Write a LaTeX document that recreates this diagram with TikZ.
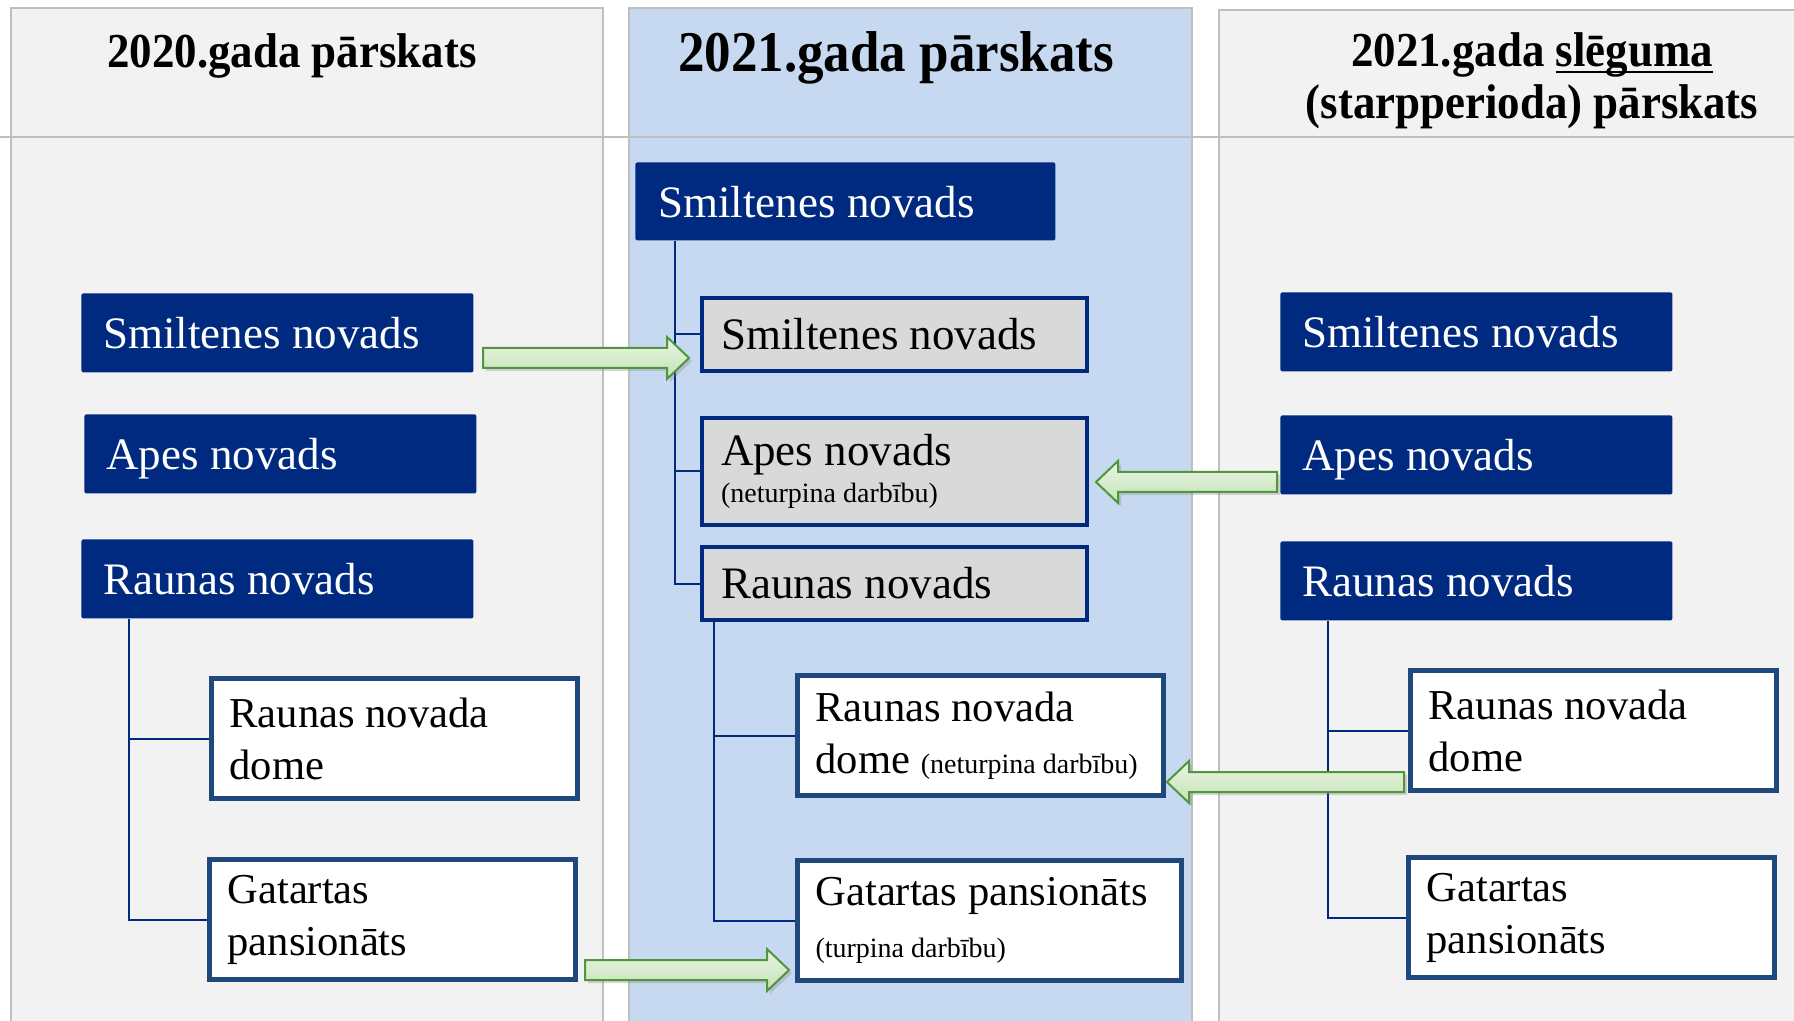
\documentclass[tikz,border=0pt]{standalone}
\usepackage{fontspec}
\setmainfont{Liberation Serif}
\newfontfamily\headfam{Liberation Serif}[FakeStretch=0.92]
\usetikzlibrary{calc,shadows}
\definecolor{navy}{RGB}{0,42,127}
\definecolor{frameblue}{RGB}{31,73,125}
\definecolor{panelgray}{RGB}{242,242,242}
\definecolor{panelblue}{RGB}{198,217,240}
\definecolor{edgegray}{RGB}{191,191,191}
\definecolor{boxgray}{RGB}{217,217,217}
\definecolor{arrowline}{RGB}{80,150,60}
\definecolor{arrowtop}{RGB}{234,245,228}
\definecolor{arrowbot}{RGB}{196,226,182}
\newcommand\boxfont{\fontsize{22.5}{26}\selectfont}
\newcommand\whitefont{\fontsize{21.3}{26}\selectfont}
\newcommand\notefont{\fontsize{14}{16}\selectfont}
\newcommand\headfont{\headfam\fontsize{24.4}{26}\selectfont\bfseries}
\newcommand\mainhead{\headfam\fontsize{28.8}{30}\selectfont\bfseries}
\newcommand\sluline[1]{\setbox0=\hbox{#1}\rlap{\rule[-3pt]{\wd0}{1.2pt}}\box0}
\tikzstyle{panel}=[
        fill=panelgray,
        draw=edgegray,
        line width=1pt
]
\tikzstyle{navybox}=[
        fill=navy, text=white, rounded corners=1pt,
        anchor=north west, align=flush left, font=\boxfont,
        inner xsep=11pt, inner ysep=0pt, text width=174pt,
        minimum height=39.5pt, text height=16pt, text depth=0pt
]
\tikzstyle{graybox}=[
        fill=boxgray, draw=navy, line width=2pt,
        anchor=north west, align=flush left, font=\boxfont,
        inner xsep=9.5pt, inner ysep=0pt, text width=173.5pt,
        minimum height=36.5pt
]
\tikzstyle{whitebox}=[
        fill=white, draw=frameblue, line width=2.5pt,
        anchor=north west, align=flush left, font=\whitefont,
        inner xsep=9pt, inner ysep=0pt, text width=165pt,
        minimum height=60pt
]
\tikzstyle{branch}=[
        draw=navy,
        line width=1pt
]
\tikzstyle{greenarrow}=[
        draw=arrowline, line width=1pt,
        top color=arrowtop, bottom color=arrowbot,
        drop shadow={shadow xshift=1.5pt, shadow yshift=-1.5pt, opacity=0.3}
]
% fat arrow from #1 to #2, #3 = head length (signed)
\newcommand\fatarrow[3]{%
        \draw[greenarrow] ($(#1)+(0,-10)$) -- ($(#2)+(#3,-10)$) -- ($(#2)+(#3,-21)$) -- (#2)
                -- ($(#2)+(#3,21)$) -- ($(#2)+(#3,10)$) -- ($(#1)+(0,10)$) -- cycle;}

\begin{document}
\begin{tikzpicture}[x=0.5pt, y=-0.5pt]
                        \useasboundingbox (0,0) rectangle (1794,1021);
                        \fill[white] (0,0) rectangle (1794,1021);

                        \draw[panel] (11,8) rectangle (603,1030);
                        \draw[panel, fill=panelblue] (629,8) rectangle (1192,1030);
                        \draw[panel] (1219,10) rectangle (1805,1030);
                        \draw[edgegray, line width=1.3pt] (0,137) -- (1794,137);

                        \node[font=\headfont, anchor=base] (hL) at (292,68) {2020.gada pārskats};
                        \node[font=\mainhead, anchor=base] (hM) at (896,72) {2021.gada pārskats};
                        \node[font=\headfont, anchor=base] (hR1) at (1532,67) {2021.gada \sluline{slēguma}};
                        \node[font=\headfont, anchor=base] (hR2) at (1532,119) {(starpperioda) pārskats};

                        % 2020
                        \node[navybox] (sL) at (81,293) {Smiltenes novads};
                        \node[navybox] (aL) at (84,414) {Apes novads};
                        \node[navybox] (rL) at (81,539) {Raunas novads};
                        \node[whitebox] (rdL) at (209,676) {Raunas novada\\dome};
                        \node[whitebox] (gpL) at (207,857) {Gatartas\\pansionāts};

                        \draw[branch] ($(rL.south west)+(48,0)$) |- (rdL.west);
                        \draw[branch] ($(rL.south west)+(48,0)$) |- (gpL.west);

                        % 2021
                        \node[navybox, text width=187pt, inner xsep=11.5pt, minimum height=39pt] (sM0) at (635,162) {Smiltenes novads};
                        \node[graybox] (sM) at (700,296) {Smiltenes novads};
                        \node[graybox, minimum height=53.5pt] (aM) at (700,416) {Apes novads\\[-7.5pt]{\notefont (neturpina darbību)}};
                        \node[graybox] (rM) at (700,545) {Raunas novads};
                        \node[whitebox] (rdM) at (795,673) {Raunas novada\\\mbox{dome {\notefont (neturpina darbību)}}};
                        \node[whitebox, text width=174pt] (gpM) at (795,858) {\mbox{Gatartas pansionāts}\\{\notefont (turpina darbību)}};

                        \draw[branch] ($(sM0.south west)+(40,0)$) |- (sM.west);
                        \draw[branch] ($(sM0.south west)+(40,0)$) |- (aM.west);
                        \draw[branch] ($(sM0.south west)+(40,0)$) |- (rM.west);
                        \draw[branch] ($(rM.south west)+(14,0)$) |- (rdM.west);
                        \draw[branch] ($(rM.south west)+(14,0)$) |- (gpM.west);

                        % 2021 closing
                        \node[navybox] (sR) at (1280,292) {Smiltenes novads};
                        \node[navybox] (aR) at (1280,415) {Apes novads};
                        \node[navybox] (rR) at (1280,541) {Raunas novads};
                        \node[whitebox] (rdR) at (1408,668) {Raunas novada\\dome};
                        \node[whitebox] (gpR) at (1406,855) {Gatartas\\pansionāts};

                        \draw[branch] ($(rR.south west)+(48,0)$) |- (rdR.west);
                        \draw[branch] ($(rR.south west)+(48,0)$) |- (gpR.west);

                        \coordinate (a1s) at (483,358);
                        \coordinate (a1e) at (689,358);
                        \coordinate (a2s) at (1277,482);
                        \coordinate (a2e) at (1096,482);
                        \coordinate (a3s) at (1404,782);
                        \coordinate (a3e) at (1167,782);
                        \coordinate (a4s) at (585,970);
                        \coordinate (a4e) at (789,970);

                        \fatarrow{a1s}{a1e}{-22}
                        \fatarrow{a2s}{a2e}{22}
                        \fatarrow{a3s}{a3e}{22}
                        \fatarrow{a4s}{a4e}{-22}

\end{tikzpicture}
\end{document}
